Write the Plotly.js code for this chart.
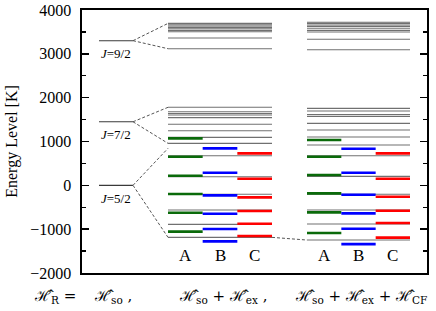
<!DOCTYPE html>
<html>
<head>
<meta charset="utf-8">
<script src="https://cdn.plot.ly/plotly-3.0.1.min.js"></script>
<style>html,body{margin:0;padding:0;background:#fff;}#chart{width:436px;height:311px;}</style>
</head>
<body>
<div id="chart"></div>
<script>
// ---- data (energy levels in K) ----
const jLevels = [0, 1450, 3300];
const jNames = ['<i>J</i>=5/2', '<i>J</i>=7/2', '<i>J</i>=9/2'];

// H_so + H_ex : full-width (gray) levels per multiplet
const exGray92 = [3694, 3664, 3634, 3604, 3572, 3535, 3504, 3361, 3117];
const exGray72 = [1780, 1680, 1640, 1604, 1545, 1392, 1246, 1095, 958];
const exGray52 = [676, 197, -205, -563, -890, -1187];
// H_so + H_ex + H_CF : full-width (gray) levels per multiplet
const cfGray92 = [3719, 3696, 3657, 3627, 3582, 3535, 3498, 3331, 3094];
const cfGray72 = [1756, 1695, 1615, 1573, 1414, 1262, 1102, 919];
const cfGray52 = [676, 205, -205, -563, -883, -1248];

// site-resolved levels
const exA = [1072, 653, 219, -198, -625, -1055];
const exB = [844, 288, -228, -648, -997, -1278];
const exC = [730, 151, -274, -586, -876, -1155];
const cfA = [1034, 653, 235, -183, -616, -1088];
const cfB = [836, 288, -216, -639, -990, -1342];
const cfC = [730, 151, -260, -580, -860, -1192];

const siteNames = ['A', 'B', 'C'];
const hamLabels = ['ℋ̂<sub>R</sub> =', 'ℋ̂<sub>so</sub> ,', 'ℋ̂<sub>so</sub> + ℋ̂<sub>ex</sub> ,', 'ℋ̂<sub>so</sub> + ℋ̂<sub>ex</sub> + ℋ̂<sub>CF</sub>'];

// ---- layout geometry (x in plot units) ----
const colJ = [17, 51];
const col2 = [86, 190];
const col3 = [225, 328];
const siteColors = ['#0a6a0a', '#0000ff', '#ff0000'];
const SERIF = 'Liberation Serif';
const MATH = 'DejaVu Serif';

function segs(levels, x0, x1) {
  const x = [], y = [];
  levels.forEach(v => { x.push(x0, x1, null); y.push(v, v, null); });
  return {x, y};
}
function sub(col, i) {
  const w = (col[1] - col[0]) / 3;
  return [col[0] + i * w, col[0] + (i + 1) * w];
}

const traces = [];
function addLines(levels, x0, x1, color, width, dash) {
  const s = segs(levels, x0, x1);
  traces.push({type: 'scatter', mode: 'lines', x: s.x, y: s.y, hoverinfo: 'skip', showlegend: false,
    line: {color: color, width: width, dash: dash || 'solid'}});
}

// gray full-width levels
const grayEx = exGray92.concat(exGray72, exGray52);
const grayCF = cfGray92.concat(cfGray72, cfGray52);
addLines(grayEx, col2[0], col2[1], '#707070', 1.1);
addLines(grayCF, col3[0], col3[1], '#707070', 1.1);
// J levels
addLines(jLevels, colJ[0], colJ[1], '#3a3a3a', 1.1);

// dashed connectors
const bandTop52 = Math.max(...exGray52.concat(exA, exB, exC).filter(v => v < Math.min(...exGray72)));
const groups = [
  [jLevels[2], Math.max(...exGray92), Math.min(...exGray92)],
  [jLevels[1], Math.max(...exGray72), Math.min(...exGray72)],
  [jLevels[0], bandTop52, Math.min(...exGray52)]
];
const cx = [], cy = [];
groups.forEach(g => {
  cx.push(colJ[1], col2[0], null, colJ[1], col2[0], null);
  cy.push(g[0], g[1], null, g[0], g[2], null);
});
cx.push(col2[1], col3[0], null);
cy.push(Math.min(...exGray52), Math.min(...cfGray52), null);
traces.push({type: 'scatter', mode: 'lines', x: cx, y: cy, hoverinfo: 'skip', showlegend: false,
  line: {color: '#555', width: 1, dash: '3px,2px'}});

// colored site levels
[exA, exB, exC].forEach((arr, i) => { const s = sub(col2, i); addLines(arr, s[0], s[1], siteColors[i], 2.6); });
[cfA, cfB, cfC].forEach((arr, i) => { const s = sub(col3, i); addLines(arr, s[0], s[1], siteColors[i], 2.6); });

// annotations
const ann = [];
jLevels.forEach((v, i) => {
  ann.push({x: (colJ[0] + colJ[1]) / 2, y: v, xref: 'x', yref: 'y', text: jNames[i], showarrow: false,
    xanchor: 'center', yanchor: 'middle', yshift: -13, font: {family: SERIF, size: 13, color: '#000'}});
});
[col2, col3].forEach(col => {
  siteNames.forEach((n, i) => {
    const s = sub(col, i);
    ann.push({x: (s[0] + s[1]) / 2, y: 0.065, xref: 'x', yref: 'paper', text: n, showarrow: false,
      xanchor: 'center', yanchor: 'middle', font: {family: SERIF, size: 17, color: '#000'}});
  });
});
const hamX = [-0.078, 0.09, 0.41, 0.81];
hamLabels.forEach((t, i) => {
  ann.push({x: hamX[i], y: -0.09, xref: 'paper', yref: 'paper', text: t, showarrow: false,
    xanchor: 'center', yanchor: 'middle', font: {family: MATH, size: 15, color: '#000'}});
});

const layout = {
  width: 436, height: 311,
  margin: {l: 82, r: 9, t: 10, b: 38, pad: 0},
  paper_bgcolor: '#fff', plot_bgcolor: '#fff',
  showlegend: false,
  font: {family: SERIF, color: '#000'},
  xaxis: {range: [0, 345], showgrid: false, zeroline: false, showline: true, mirror: true,
    linecolor: '#000', linewidth: 1.6, ticks: '', showticklabels: false, fixedrange: true},
  yaxis: {range: [-2000, 4000], dtick: 1000, tick0: 0, showgrid: false, zeroline: false,
    showline: true, mirror: 'ticks', linecolor: '#000', linewidth: 1.6,
    ticks: 'inside', ticklen: 7, tickwidth: 1.4, tickcolor: '#000',
    minor: {dtick: 500, ticks: 'inside', ticklen: 4, tickwidth: 1.2, tickcolor: '#000'},
    ticklabelstandoff: 6,
    tickfont: {family: SERIF, size: 16, color: '#000'},
    title: {text: 'Energy Level [K]', font: {family: SERIF, size: 16, color: '#000'}, standoff: 8},
    fixedrange: true},
  annotations: ann
};

Plotly.newPlot('chart', traces, layout, {displayModeBar: false, staticPlot: true});
</script>
</body>
</html>
